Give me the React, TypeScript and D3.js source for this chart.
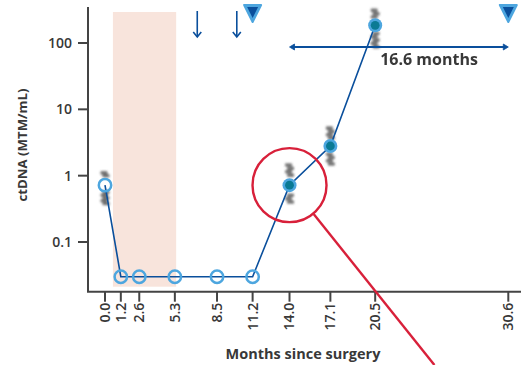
import React from "react";
import * as d3 from "d3";

const months = [0.0, 1.2, 2.6, 5.3, 8.5, 11.2, 14.0, 17.1, 20.5];
const values = [0.72, 0.03, 0.03, 0.03, 0.03, 0.03, 0.72, 2.8, 185];
const detected = [false, false, false, false, false, false, true, true, true];
const ciLow = [0.38, null, null, null, null, null, 0.4, 1.5, 88];
const ciHigh = [1.1, null, null, null, null, null, 1.45, 5.2, 310];
const xTicks = [0.0, 1.2, 2.6, 5.3, 8.5, 11.2, 14.0, 17.1, 20.5, 30.6];
const yTicks = [0.1, 1, 10, 100];
const yTickLabels = ["0.1", "1", "10", "100"];
const therapy = [0.6, 5.4];
const arrowMonths = [7.0, 10.0];
const triangleMonths = [11.2, 30.6];
const spanMonths = [14.0, 30.6];
const spanValue = 87;
const spanLabel = "16.6 months";

const W = 521, H = 365;
const FONT = "'Open Sans', sans-serif";

export default function App() {
  const x = d3.scaleLinear().domain([0, 30.6]).range([105, 508.3]);
  const y = d3.scaleLog().domain([0.1, 100]).range([242, 43]);
  const axisX = 88;
  const axisY = 291.7;
  const blue = "#0a4f9c";
  const light = "#4da6df";
  const teal = "#0a7a94";
  const red = "#d8203a";
  const txt = "#383838";

  const line = d3
    .line<number>()
    .x((_, i) => x(months[i]))
    .y((v) => y(v));

  const cx = x(14.0), cy = y(0.72), r = 37;
  const dir = [0.8, 1];
  const norm = Math.hypot(dir[0], dir[1]);
  const sx = cx + (r * dir[0]) / norm + 1;
  const sy = cy + (r * dir[1]) / norm;
  const ex = sx + ((H - sy) * dir[0]) / dir[1];

  return (
    <svg width={W} height={H} style={{ position: "absolute", left: 0, top: 0 }}>
      <defs>
        <filter id="blur" x="-50%" y="-50%" width="200%" height="200%">
          <feGaussianBlur stdDeviation="0.8" />
        </filter>
      </defs>
      <rect width={W} height={H} fill="#fff" />
      <rect
        x={x(therapy[0])}
        y={12}
        width={x(therapy[1]) - x(therapy[0])}
        height={axisY - 5 - 12}
        fill="#f8e4dc"
      />
      <line x1={axisX} y1={7} x2={axisX} y2={axisY} stroke="#444" strokeWidth={2} />
      <line x1={axisX - 1} y1={axisY} x2={W} y2={axisY} stroke="#444" strokeWidth={2} />
      {yTicks.map((t, i) => (
        <g key={t}>
          <line x1={axisX - 10} x2={axisX} y1={y(t)} y2={y(t)} stroke="#444" strokeWidth={2} />
          <text
            x={axisX - 16}
            y={y(t)}
            dy="0.35em"
            textAnchor="end"
            fontFamily={FONT}
            fontWeight={600}
            fontSize={14}
            fill={txt}
          >
            {yTickLabels[i]}
          </text>
        </g>
      ))}
      {xTicks.map((t) => (
        <g key={t}>
          <line x1={x(t)} x2={x(t)} y1={axisY} y2={axisY + 10} stroke="#444" strokeWidth={2} />
          <text
            transform={`translate(${x(t)},${axisY + 11}) rotate(-90)`}
            dy="0.35em"
            textAnchor="end"
            fontFamily={FONT}
            fontWeight={600}
            fontSize={14}
            fill={txt}
          >
            {t.toFixed(1)}
          </text>
        </g>
      ))}
      <text
        transform={`translate(27,145) rotate(-90)`}
        textAnchor="middle"
        fontFamily={FONT}
        fontWeight={700}
        fontSize={13.2}
        fill={txt}
      >
        ctDNA (MTM/mL)
      </text>
      <text
        x={303}
        y={359}
        textAnchor="middle"
        fontFamily={FONT}
        fontWeight={700}
        fontSize={14.5}
        fill={txt}
      >
        Months since surgery
      </text>
      <g filter="url(#blur)" fill="#4a4a4a">
        {months.map((m, i) => {
          const lo = ciLow[i], hi = ciHigh[i];
          if (lo == null || hi == null) return null;
          const y0 = y(hi), y1 = y(lo);
          const marks = [];
          const n = 12;
          for (let k = 0; k < n; k++) {
            const yy = y0 + ((y1 - y0) * k) / (n - 1);
            if (Math.abs(yy - y(values[i])) < 7) continue;
            const off = k % 2 === 0 ? -1 : 1;
            marks.push(
              <rect key={k} x={x(m) - 3.5 + off} y={yy - 1.8} width={7} height={3.6} rx={1.2} opacity={0.75} />
            );
          }
          return <g key={m}>{marks}</g>;
        })}
      </g>
      <path d={line(values) || ""} fill="none" stroke={blue} strokeWidth={1.6} />
      {months.map((m, i) =>
        detected[i] ? (
          <g key={m}>
            <circle cx={x(m)} cy={y(values[i])} r={7} fill={light} />
            <circle cx={x(m)} cy={y(values[i])} r={4.4} fill={teal} />
          </g>
        ) : (
          <circle key={m} cx={x(m)} cy={y(values[i])} r={6.2} fill="none" stroke={light} strokeWidth={2.5} />
        )
      )}
      {arrowMonths.map((m) => (
        <g key={m} stroke={blue} strokeWidth={1.6} fill="none">
          <line x1={x(m)} x2={x(m)} y1={11} y2={37} />
          <polyline points={`${x(m) - 4},${32} ${x(m)},${37} ${x(m) + 4},${32}`} />
        </g>
      ))}
      {triangleMonths.map((m) => (
        <g key={m}>
          <path
            d={`M${x(m) - 8.5},5 L${x(m) + 8.5},5 L${x(m)},22 Z`}
            fill={light}
            stroke={light}
            strokeWidth={2}
            strokeLinejoin="round"
          />
          <path d={`M${x(m) - 5.5},7 L${x(m) + 5.5},7 L${x(m)},18 Z`} fill={blue} />
        </g>
      ))}
      <g stroke={blue} strokeWidth={1.8} fill={blue}>
        <line x1={x(spanMonths[0]) + 2} x2={x(spanMonths[1]) - 2} y1={y(spanValue)} y2={y(spanValue)} />
        <path d={`M${x(spanMonths[0])},${y(spanValue)} l5,-3 l0,6 Z`} strokeWidth={0.8} />
        <path d={`M${x(spanMonths[1])},${y(spanValue)} l-5,-3 l0,6 Z`} strokeWidth={0.8} />
      </g>
      <text
        x={x(20.5) + 5}
        y={65}
        fontFamily={FONT}
        fontWeight={700}
        fontSize={16}
        fill={txt}
      >
        {spanLabel}
      </text>
      <circle cx={cx} cy={cy} r={r} fill="none" stroke={red} strokeWidth={2.4} />
      <line x1={sx} y1={sy} x2={ex} y2={H} stroke={red} strokeWidth={2.4} />
    </svg>
  );
}
